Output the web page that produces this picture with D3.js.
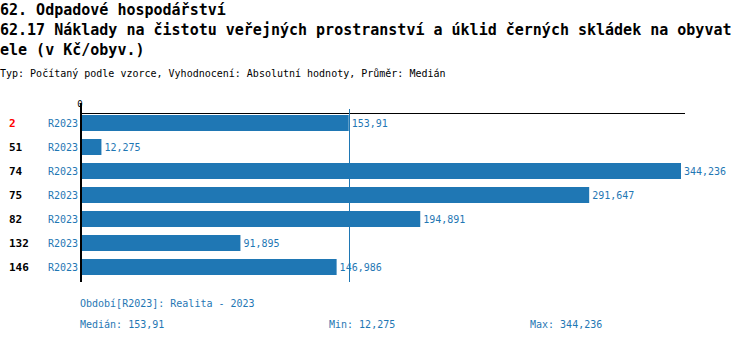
<!DOCTYPE html>
<html>
<head>
<meta charset="utf-8">
<script src="https://cdn.jsdelivr.net/npm/d3@7"></script>
<style>
  html, body { margin: 0; padding: 0; background: #fff; }
  svg { display: block; }
  text { font-family: "DejaVu Sans Mono", "Liberation Mono", monospace; }
</style>
</head>
<body>
<svg id="chart" width="750" height="342"></svg>
<script>
// Municipalities (row ids), period labels and values in Kč per inhabitant
const ids = ["2", "51", "74", "75", "82", "132", "146"];
const periods = ["R2023", "R2023", "R2023", "R2023", "R2023", "R2023", "R2023"];
const values = [153.91, 12.275, 344.236, 291.647, 194.891, 91.895, 146.986];
const highlighted = ["2"];
const titleLines = [
  "62. Odpadové hospodářství",
  "62.17 Náklady na čistotu veřejných prostranství a úklid černých skládek na obyvat",
  "ele (v Kč/obyv.)"
];
const subtitle = "Typ: Počítaný podle vzorce, Vyhodnocení: Absolutní hodnoty, Průměr: Medián";
const periodNote = "Období[R2023]: Realita - 2023";
const median = 153.91, minVal = 12.275, maxVal = 344.236;

const fmt = v => String(v).replace(".", ",");
const blue = "#1f77b4";

const svg = d3.select("#chart");

// Title block
const titleY = [15, 35, 55];
titleLines.forEach((t, i) => {
  svg.append("text").attr("x", 0).attr("y", titleY[i])
    .attr("font-size", 15).attr("font-weight", "bold").attr("fill", "#000").text(t);
});
svg.append("text").attr("x", 0).attr("y", 77)
  .attr("font-size", 10).attr("fill", "#000").text(subtitle);

// Scales
const x = d3.scaleLinear().domain([0, maxVal]).range([80, 681]);
const y = d3.scaleBand().domain(ids).range([111, 279])
  .paddingInner(1 / 3).paddingOuter(1 / 6);

// Bars
const rows = ids.map((id, i) => ({ id, period: periods[i], value: values[i] }));
svg.selectAll("rect.bar").data(rows).join("rect")
  .attr("class", "bar")
  .attr("x", x(0))
  .attr("y", d => y(d.id))
  .attr("width", d => x(d.value) - x(0))
  .attr("height", y.bandwidth())
  .attr("fill", blue);

// Value labels at bar ends
svg.selectAll("text.val").data(rows).join("text")
  .attr("class", "val")
  .attr("x", d => x(d.value) + 3)
  .attr("y", d => y(d.id) + y.bandwidth() / 2)
  .attr("dominant-baseline", "central")
  .attr("font-size", 10).attr("fill", blue)
  .text(d => fmt(d.value));

// Row ids and period labels
svg.selectAll("text.id").data(rows).join("text")
  .attr("class", "id")
  .attr("x", 9)
  .attr("y", d => y(d.id) + y.bandwidth() / 2)
  .attr("dominant-baseline", "central")
  .attr("font-size", 11).attr("font-weight", "bold")
  .attr("fill", d => highlighted.includes(d.id) ? "#ff0000" : "#000")
  .text(d => d.id);
svg.selectAll("text.per").data(rows).join("text")
  .attr("class", "per")
  .attr("x", 48)
  .attr("y", d => y(d.id) + y.bandwidth() / 2)
  .attr("dominant-baseline", "central")
  .attr("font-size", 10).attr("fill", blue)
  .text(d => d.period);

// Axes
svg.append("line").attr("x1", 80).attr("x2", 685)
  .attr("y1", 113.5).attr("y2", 113.5)
  .attr("stroke", "#000").attr("stroke-width", 1);
svg.append("line").attr("x1", 81).attr("x2", 81)
  .attr("y1", 103).attr("y2", 282)
  .attr("stroke", "#000").attr("stroke-width", 2);
svg.append("text").attr("x", x(0)).attr("y", 106.5)
  .attr("text-anchor", "middle").attr("font-size", 9).attr("fill", "#000").text("0");

// Median line
svg.append("line").attr("x1", Math.round(x(median)) + 0.5).attr("x2", Math.round(x(median)) + 0.5)
  .attr("y1", 109).attr("y2", 282)
  .attr("stroke", blue).attr("stroke-width", 1);

// Footer
svg.append("text").attr("x", 80).attr("y", 303).attr("dominant-baseline", "central")
  .attr("font-size", 10).attr("fill", blue).text(periodNote);
svg.append("text").attr("x", 80).attr("y", 324).attr("dominant-baseline", "central")
  .attr("font-size", 10).attr("fill", blue).text("Medián: " + fmt(median));
svg.append("text").attr("x", 329).attr("y", 324).attr("dominant-baseline", "central")
  .attr("font-size", 10).attr("fill", blue).text("Min: " + fmt(minVal));
svg.append("text").attr("x", 530).attr("y", 324).attr("dominant-baseline", "central")
  .attr("font-size", 10).attr("fill", blue).text("Max: " + fmt(maxVal));
</script>
</body>
</html>
